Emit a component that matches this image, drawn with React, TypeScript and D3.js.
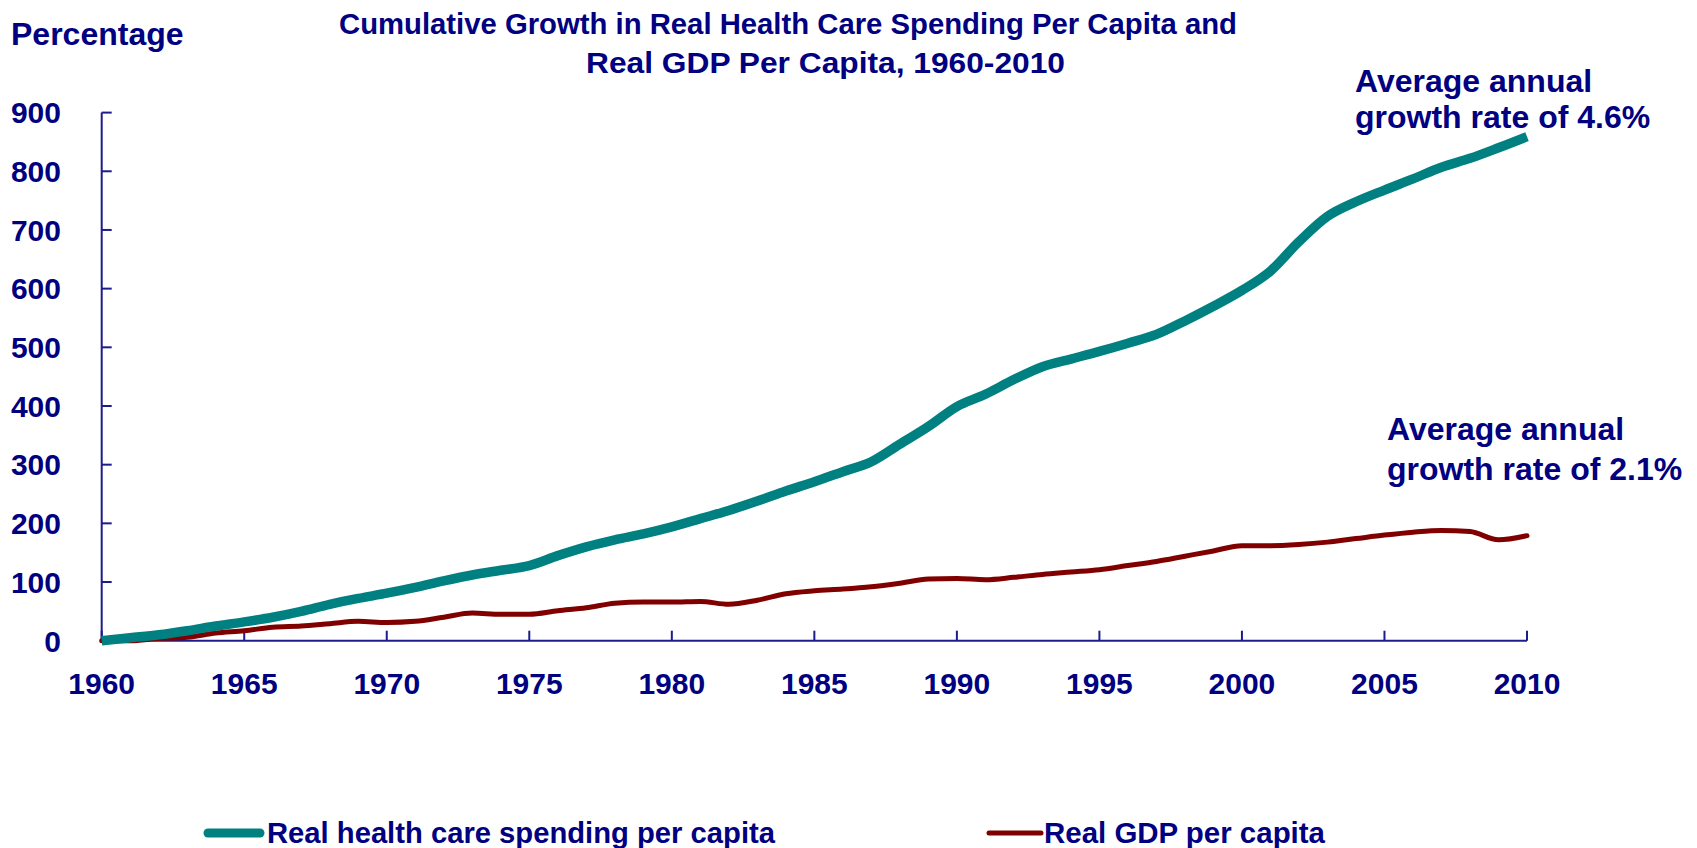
import React from "react";
import * as d3 from "d3";

const years: number[] = d3.range(1960, 2011);
const healthSpending: number[] = [
  0, 5, 10, 17, 25, 32, 40, 50, 62, 72,
  81, 91, 102, 112, 120, 128, 145, 160, 172, 182,
  194, 208, 222, 238, 255, 271, 288, 305, 335, 365,
  399, 420, 445, 467, 480, 493, 507, 522, 545, 570,
  597, 630, 680, 723, 748, 768, 787, 807, 822, 840, 859,
];
const gdp: number[] = [
  0, 0, 4, 6, 13, 17, 23, 25, 29, 33,
  31, 33, 40, 47, 45, 45, 51, 56, 64, 66,
  66, 67, 62, 69, 80, 85, 88, 92, 98, 105,
  106, 104, 108, 113, 117, 121, 128, 135, 144, 153,
  162, 162, 164, 168, 174, 180, 185, 188, 186, 172, 179,
];
const yTicks: number[] = [0, 100, 200, 300, 400, 500, 600, 700, 800, 900];
const xTicks: number[] = [1960, 1965, 1970, 1975, 1980, 1985, 1990, 1995, 2000, 2005, 2010];

const TEAL = "#008080";
const MAROON = "#800000";
const NAVY = "#000080";
const AXIS = "#1c1c8c";
const FONT = "Arial, 'Liberation Sans', sans-serif";

export default function App() {
  const x = d3.scaleLinear().domain([1960, 2010]).range([101.7, 1527]);
  const y = d3.scaleLinear().domain([0, 900]).range([640.7, 112.6]);
  const line = d3
    .line<number>()
    .x((_, i) => x(years[i]))
    .y((d) => y(d))
    .curve(d3.curveMonotoneX);

  return (
    <svg
      width={1697}
      height={848}
      style={{ position: "absolute", left: 0, top: 0, background: "#fff" }}
      fontFamily={FONT}
      fontWeight="bold"
    >
      <rect x={0} y={0} width={1697} height={848} fill="#fff" />
      {/* Title */}
      <text x={339} y={34} fontSize={29} fill={NAVY} textLength={898} lengthAdjust="spacingAndGlyphs">
        Cumulative Growth in Real Health Care Spending Per Capita and
      </text>
      <text x={586} y={73} fontSize={29} fill={NAVY} textLength={479} lengthAdjust="spacingAndGlyphs">
        Real GDP Per Capita, 1960-2010
      </text>
      <text x={11} y={45} fontSize={32} fill={NAVY}>
        Percentage
      </text>

      {/* Y axis */}
      <line x1={x(1960)} x2={x(1960)} y1={y(0)} y2={y(900)} stroke={AXIS} strokeWidth={2} />
      {yTicks.map((t) => (
        <g key={"y" + t}>
          <line x1={x(1960)} x2={x(1960) + 10} y1={y(t)} y2={y(t)} stroke={AXIS} strokeWidth={2} />
          <text x={61} y={y(t)} dy="0.36em" textAnchor="end" fontSize={30} fill={NAVY}>
            {t}
          </text>
        </g>
      ))}

      {/* X axis */}
      <line x1={x(1960)} x2={x(2010)} y1={y(0)} y2={y(0)} stroke={AXIS} strokeWidth={2} />
      {xTicks.map((t) => (
        <g key={"x" + t}>
          <line x1={x(t)} x2={x(t)} y1={y(0)} y2={y(0) - 10} stroke={AXIS} strokeWidth={2} />
          <text x={x(t)} y={694} textAnchor="middle" fontSize={30} fill={NAVY}>
            {t}
          </text>
        </g>
      ))}

      {/* Lines */}
      <path d={line(gdp) || ""} fill="none" stroke={MAROON} strokeWidth={5} strokeLinecap="round" strokeLinejoin="round" />
      <path d={line(healthSpending) || ""} fill="none" stroke={TEAL} strokeWidth={9.5} strokeLinecap="butt" strokeLinejoin="round" />

      {/* Annotations */}
      <text x={1355} y={92} fontSize={32} fill={NAVY}>Average annual</text>
      <text x={1355} y={128} fontSize={32} fill={NAVY}>growth rate of 4.6%</text>
      <text x={1387} y={440} fontSize={32} fill={NAVY}>Average annual</text>
      <text x={1387} y={480} fontSize={32} fill={NAVY}>growth rate of 2.1%</text>

      {/* Legend */}
      <line x1={208} x2={260} y1={833} y2={833} stroke={TEAL} strokeWidth={9} strokeLinecap="round" />
      <text x={267} y={843} fontSize={29} fill={NAVY} textLength={508} lengthAdjust="spacingAndGlyphs">
        Real health care spending per capita
      </text>
      <line x1={989} x2={1041} y1={833} y2={833} stroke={MAROON} strokeWidth={5} strokeLinecap="round" />
      <text x={1044} y={843} fontSize={29} fill={NAVY} textLength={281} lengthAdjust="spacingAndGlyphs">
        Real GDP per capita
      </text>
    </svg>
  );
}
